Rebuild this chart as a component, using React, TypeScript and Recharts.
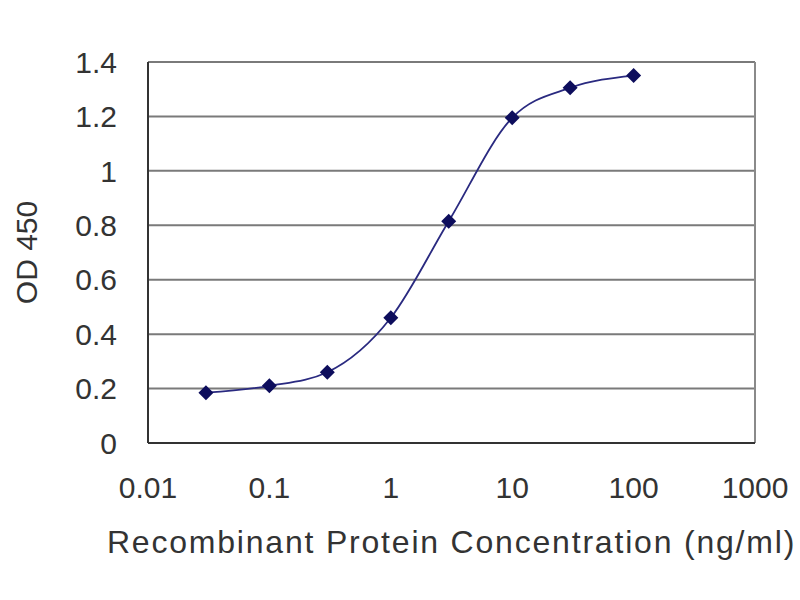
import {
  CartesianGrid,
  Line,
  LineChart,
  ReferenceLine,
  XAxis,
  YAxis,
} from "recharts"

// concentration (ng/ml) and measured OD 450
const concentrations = [0.03, 0.1, 0.3, 1, 3, 10, 30, 100]
const odValues = [0.185, 0.21, 0.26, 0.46, 0.815, 1.195, 1.305, 1.35]

const xTicks = [0.01, 0.1, 1, 10, 100, 1000]
const yTicks = [0, 0.2, 0.4, 0.6, 0.8, 1, 1.2, 1.4]

const data = concentrations.map((c, i) => ({ conc: c, od: odValues[i] }))

const textColor = "#333333"
const lineColor = "#2a2a80"

function Diamond(props: any) {
  const { cx, cy } = props
  if (cx == null || cy == null) return null
  const r = 7.5
  return (
    <polygon
      points={`${cx},${cy - r} ${cx + r},${cy} ${cx},${cy + r} ${cx - r},${cy}`}
      fill="#0d0d5c"
      stroke="none"
    />
  )
}

export default function App() {
  return (
    <div style={{ position: "absolute", left: 0, top: 0, width: 800, height: 600, background: "#fff" }}>
      <LineChart
        width={800}
        height={600}
        data={data}
        margin={{ top: 62, right: 45, left: 0, bottom: 0 }}
        style={{ fontFamily: "'Liberation Sans', Arial, sans-serif" }}
      >
        <CartesianGrid vertical={false} horizontal stroke="#7a7a7a" strokeWidth={2} />
        <ReferenceLine x={1000} stroke="#8a8a8a" strokeWidth={2} />
        <XAxis
          dataKey="conc"
          type="number"
          scale="log"
          domain={[0.01, 1000]}
          ticks={xTicks}
          allowDataOverflow
          tickFormatter={(v) => String(v)}
          height={157}
          axisLine={{ stroke: "#333333", strokeWidth: 2 }}
          tickLine={false}
          tick={{ fill: textColor, fontSize: 30, dy: 26 }}
          label={{
            value: "Recombinant Protein Concentration (ng/ml)",
            position: "insideBottom",
            offset: 47,
            fill: textColor,
            fontSize: 32,
            letterSpacing: 1.8,
          }}
        />
        <YAxis
          type="number"
          domain={[0, 1.4]}
          ticks={yTicks}
          width={148}
          axisLine={{ stroke: "#333333", strokeWidth: 2 }}
          tickLine={false}
          tickFormatter={(v) => String(v)}
          tick={{ fill: textColor, fontSize: 30, dx: -23 }}
          label={{
            value: "OD 450",
            angle: -90,
            position: "insideLeft",
            offset: 26,
            fill: textColor,
            fontSize: 30,
            style: { textAnchor: "middle" },
          }}
        />
        <Line
          dataKey="od"
          type="monotone"
          stroke={lineColor}
          strokeWidth={1.8}
          dot={<Diamond />}
          activeDot={false}
          isAnimationActive={false}
        />
      </LineChart>
    </div>
  )
}
